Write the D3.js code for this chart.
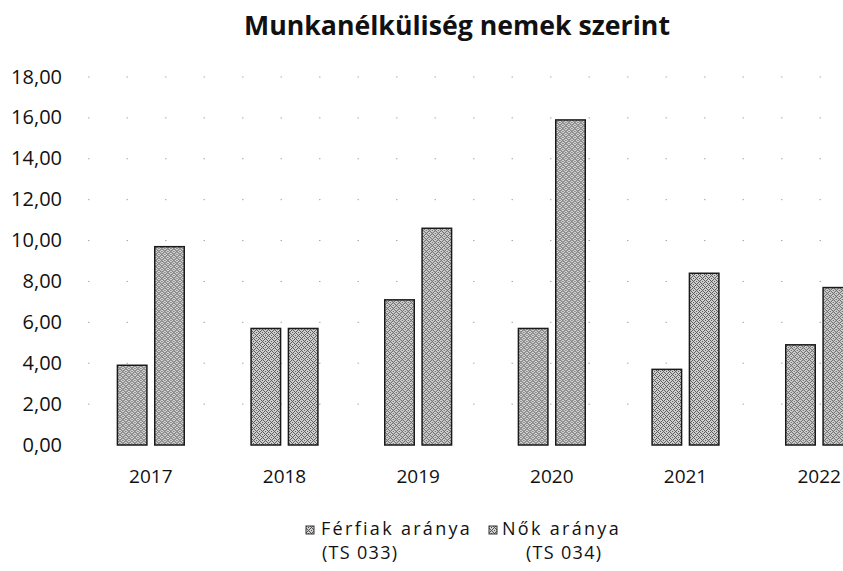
<!DOCTYPE html>
<html>
<head>
<meta charset="utf-8">
<script src="https://cdn.jsdelivr.net/npm/d3@7/dist/d3.min.js"></script>
<style>
  html, body { margin: 0; padding: 0; background: #fff; }
  svg { display: block; }
  text { font-family: "Open Sans", "Noto Sans", sans-serif; fill: #111; }
</style>
</head>
<body>
<svg id="chart" width="843" height="571"></svg>
<script>
const title = "Munkanélküliség nemek szerint";
const categories = ["2017", "2018", "2019", "2020", "2021", "2022"];
const legendLine1 = ["Férfiak aránya", "Nők aránya"];
const legendLine2 = ["(TS 033)", "(TS 034)"];
const men = [3.9, 5.7, 7.1, 5.7, 3.7, 4.9];
const women = [9.7, 5.7, 10.6, 15.9, 8.4, 7.7];
const yTicks = [0, 2, 4, 6, 8, 10, 12, 14, 16, 18];

const svg = d3.select("#chart");
const W = 843, H = 571;

// stipple pattern (scanned-look texture)
const defs = svg.append("defs");
const pat = defs.append("pattern").attr("id", "stip").attr("patternUnits", "userSpaceOnUse")
  .attr("width", 6).attr("height", 6);
pat.append("rect").attr("width", 6).attr("height", 6).attr("fill", "#d2d2d2");
[[0,0],[3,1],[1,3],[4,4],[2,5],[5,2],[0,4],[3,3],[1,1],[4,0],[5,5],[2,2]].forEach(([px,py]) =>
  pat.append("rect").attr("x", px).attr("y", py).attr("width", 1).attr("height", 1).attr("fill", "#555"));

const y = d3.scaleLinear().domain([0, 18]).range([445, 77]);
const x = d3.scaleBand().domain(categories).range([84, 886]).paddingInner(0.5).paddingOuter(0.25);
const xs = d3.scaleBand().domain([0, 1]).range([0, x.bandwidth()]).paddingInner(0.21);

// sparse dotted gridlines
svg.append("g").selectAll("line").data(yTicks.slice(1)).join("line")
  .attr("x1", 88).attr("x2", W).attr("y1", d => y(d)).attr("y2", d => y(d))
  .attr("stroke", "#a8a8a8").attr("stroke-width", 1).attr("stroke-dasharray", "1.5,37");

// y axis
const yAxis = d3.axisLeft(y).tickValues(yTicks).tickSize(0).tickPadding(0)
  .tickFormat(d => d3.format(".2f")(d).replace(".", ","));
const gy = svg.append("g").attr("transform", "translate(62,0)").call(yAxis);
gy.select(".domain").remove();
gy.selectAll("text").style("font-size", "20px").attr("fill", "#111").attr("dy", "0.3em");

// x axis
const xAxis = d3.axisBottom(x).tickSize(0).tickPadding(0);
const gx = svg.append("g").attr("transform", "translate(0,466)").call(xAxis);
gx.select(".domain").remove();
gx.selectAll("text").style("font-size", "19px").attr("fill", "#111").attr("dy", "0.9em");

// bars
const data = categories.map((c, i) => ({ c, vals: [men[i], women[i]] }));
const groups = svg.append("g").selectAll("g").data(data).join("g")
  .attr("transform", d => `translate(${x(d.c)},0)`);
groups.selectAll("rect").data(d => d.vals.map((v, k) => ({ v, k }))).join("rect")
  .attr("x", d => xs(d.k)).attr("width", xs.bandwidth())
  .attr("y", d => y(d.v)).attr("height", d => y(0) - y(d.v))
  .attr("fill", "url(#stip)").attr("stroke", "#1a1a1a").attr("stroke-width", 1.5);

// title
svg.append("text").attr("x", 457).attr("y", 35).attr("text-anchor", "middle")
  .style("font-size", "26.7px").style("font-weight", "bold").text(title);

// legend
const legX = [306, 489];
const leg = svg.append("g").selectAll("g").data(legendLine1).join("g")
  .attr("transform", (d, i) => `translate(${legX[i]},0)`);
leg.append("rect").attr("x", 0).attr("y", 526).attr("width", 8).attr("height", 8)
  .attr("fill", "url(#stip)").attr("stroke", "#333").attr("stroke-width", 1);
leg.append("text").attr("x", (d, i) => i === 0 ? 15 : 13).attr("y", 535).style("font-size", "18px")
  .style("letter-spacing", "2.3px").text(d => d);
leg.append("text").attr("x", (d, i) => i === 0 ? 16 : 37).attr("y", 559).style("font-size", "18px")
  .style("letter-spacing", "1.3px").text((d, i) => legendLine2[i]);
</script>
</body>
</html>
